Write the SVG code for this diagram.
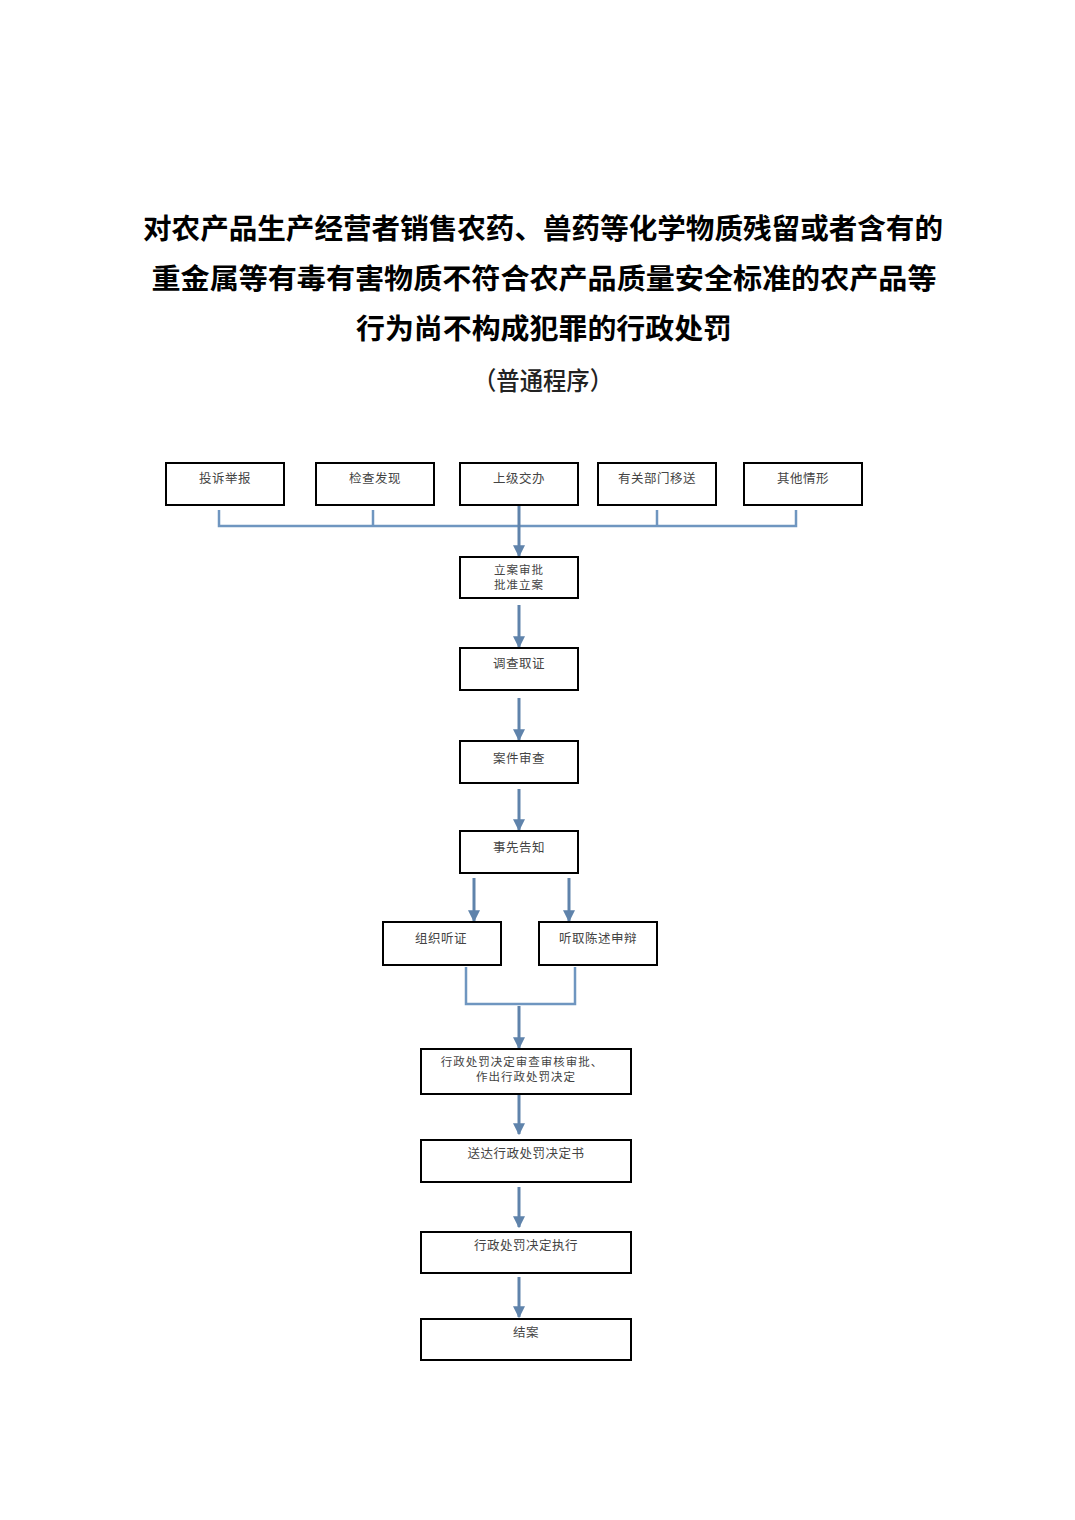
<svg xmlns="http://www.w3.org/2000/svg" width="1075" height="1520" viewBox="0 0 1075 1520">
<style>
.t{font-family:"Noto Sans CJK SC","Noto Sans CJK JP",sans-serif;font-weight:bold;font-size:28px;fill:#000;text-anchor:middle}
.s{font-family:"Noto Sans CJK SC",sans-serif;font-weight:500;font-size:25px;fill:#222;text-anchor:middle}
.n rect{fill:#fff;stroke:#000;stroke-width:2}
.n text{font-family:"Noto Sans CJK SC","Noto Sans CJK JP",serif;font-size:12.5px;letter-spacing:0.5px;fill:#444;text-anchor:middle}
.n text.m{font-size:11.5px;letter-spacing:1px}
.c line,.c polyline{stroke:#6f96c0;stroke-width:2.5;fill:none}
.c .a{stroke:#5f83ab;stroke-width:3}
</style>
<defs>
<marker id="ah" viewBox="0 0 10 10" refX="9" refY="5" markerWidth="4" markerHeight="4" orient="auto" markerUnits="strokeWidth">
<path d="M0,0 L10,5 L0,10 z" fill="#5f83ab"/>
</marker>
</defs>
<rect width="1075" height="1520" fill="#fff"/>
<g id="title">
<text class="t" x="543" y="239" textLength="800" lengthAdjust="spacingAndGlyphs">对农产品生产经营者销售农药、兽药等化学物质残留或者含有的</text>
<text class="t" x="544" y="289" textLength="785" lengthAdjust="spacingAndGlyphs">重金属等有毒有害物质不符合农产品质量安全标准的农产品等</text>
<text class="t" x="544" y="339" textLength="376" lengthAdjust="spacingAndGlyphs">行为尚不构成犯罪的行政处罚</text>
<text class="s" x="543" y="390" textLength="140" lengthAdjust="spacingAndGlyphs">（普通程序）</text>
</g>
<g class="c" id="connectors">
<polyline points="219,510 219,526 796,526 796,510"/>
<line x1="373" y1="510" x2="373" y2="526"/>
<line x1="657" y1="510" x2="657" y2="526"/>
<line class="a" x1="519" y1="505" x2="519" y2="556" marker-end="url(#ah)"/>
<line class="a" x1="519" y1="605" x2="519" y2="647" marker-end="url(#ah)"/>
<line class="a" x1="519" y1="698" x2="519" y2="740" marker-end="url(#ah)"/>
<line class="a" x1="519" y1="789" x2="519" y2="830" marker-end="url(#ah)"/>
<line class="a" x1="474" y1="878" x2="474" y2="921" marker-end="url(#ah)"/>
<line class="a" x1="569" y1="878" x2="569" y2="921" marker-end="url(#ah)"/>
<polyline points="466,967 466,1004 575,1004 575,967"/>
<line class="a" x1="519" y1="1006" x2="519" y2="1048" marker-end="url(#ah)"/>
<line class="a" x1="519" y1="1095" x2="519" y2="1134" marker-end="url(#ah)"/>
<line class="a" x1="519" y1="1187" x2="519" y2="1227" marker-end="url(#ah)"/>
<line class="a" x1="519" y1="1277" x2="519" y2="1317" marker-end="url(#ah)"/>
</g>
<g class="n" id="n1"><rect x="166" y="463" width="118" height="42"/><text x="225" y="483">投诉举报</text></g>
<g class="n" id="n2"><rect x="316" y="463" width="118" height="42"/><text x="375" y="483">检查发现</text></g>
<g class="n" id="n3"><rect x="460" y="463" width="118" height="42"/><text x="519" y="483">上级交办</text></g>
<g class="n" id="n4"><rect x="598" y="463" width="118" height="42"/><text x="657" y="483">有关部门移送</text></g>
<g class="n" id="n5"><rect x="744" y="463" width="118" height="42"/><text x="803" y="483">其他情形</text></g>
<g class="n" id="n6"><rect x="460" y="557" width="118" height="41"/><text class="m" x="519" y="574">立案审批</text><text class="m" x="519" y="589">批准立案</text></g>
<g class="n" id="n7"><rect x="460" y="648" width="118" height="42"/><text x="519" y="668">调查取证</text></g>
<g class="n" id="n8"><rect x="460" y="741" width="118" height="42"/><text x="519" y="763">案件审查</text></g>
<g class="n" id="n9"><rect x="460" y="831" width="118" height="42"/><text x="519" y="852">事先告知</text></g>
<g class="n" id="n10"><rect x="383" y="922" width="118" height="43"/><text x="441" y="943">组织听证</text></g>
<g class="n" id="n11"><rect x="539" y="922" width="118" height="43"/><text x="598" y="943">听取陈述申辩</text></g>
<g class="n" id="n12"><rect x="421" y="1049" width="210" height="45"/><text class="m" x="522" y="1066">行政处罚决定审查审核审批、</text><text class="m" x="526" y="1081">作出行政处罚决定</text></g>
<g class="n" id="n13"><rect x="421" y="1140" width="210" height="42"/><text x="526" y="1158">送达行政处罚决定书</text></g>
<g class="n" id="n14"><rect x="421" y="1232" width="210" height="41"/><text x="526" y="1250">行政处罚决定执行</text></g>
<g class="n" id="n15"><rect x="421" y="1319" width="210" height="41"/><text x="526" y="1337">结案</text></g>
</svg>
